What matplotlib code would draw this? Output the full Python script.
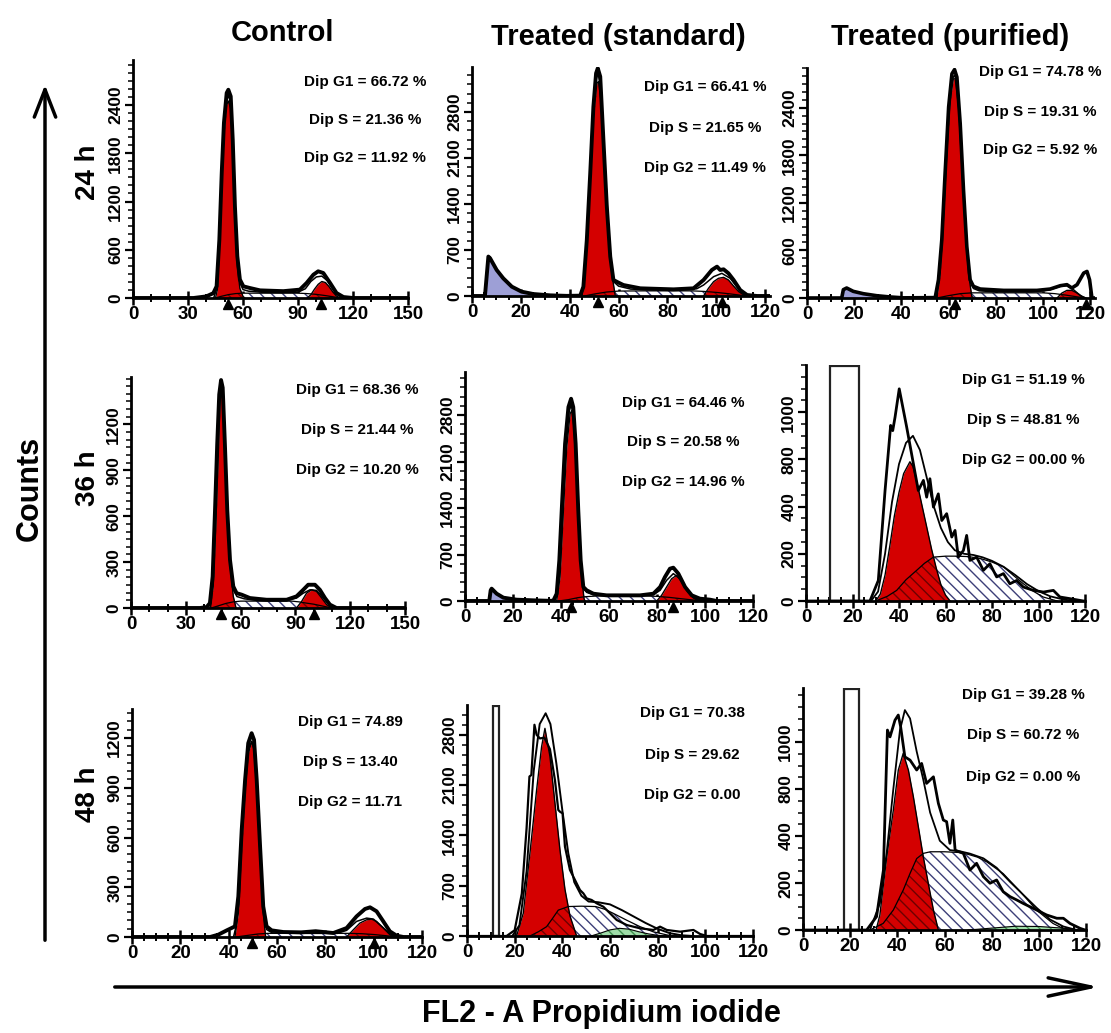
import numpy as np
import matplotlib
matplotlib.use('Agg')
import matplotlib.pyplot as plt
from matplotlib.patches import Rectangle, FancyArrowPatch
from matplotlib.ticker import MultipleLocator
from matplotlib.transforms import ScaledTranslation

plt.rcParams['font.family'] = ['Liberation Sans', 'DejaVu Sans']
plt.rcParams['font.weight'] = 'bold'
plt.rcParams['hatch.linewidth'] = 1.0

W, H = 1111, 1033
RED = '#d40000'
DEBRIS = '#9d9fd6'
HATCH = '#3d3f78'
GREEN = '#9fdca8'
HATCH_PATTERN = '\\\\\\'

col_titles = ['Control', 'Treated (standard)', 'Treated (purified)']
row_titles = ['24 h', '36 h', '48 h']

# ---- 24 h ----
ctrl24_data = [(0, 0), (33, 0), (40, 20), (43.8, 60), (45.6, 145), (47.1, 725), (48.4, 1555), (49.6, 2177),
               (51.1, 2550), (52, 2590), (53.3, 2508), (54.4, 1970), (55.6, 1140), (56.9, 520), (58.3, 230),
               (60.2, 145), (63.8, 124), (69.3, 95), (82, 85), (91, 104), (94.7, 187), (98.4, 290), (101, 332),
               (103.8, 311), (107.5, 187), (111, 62), (114.8, 12), (120, 0), (150, 0)]
ctrl24_fit = [(44, 0), (46, 140), (47.1, 690), (48.4, 1490), (49.6, 2110), (51, 2470), (52, 2510), (53.3, 2440),
              (54.4, 1900), (55.6, 1080), (56.9, 470), (58.3, 190), (60, 105), (63, 85), (70, 72), (80, 68),
              (90, 72), (94, 115), (97, 205), (100, 262), (103, 272), (106, 215), (109, 110), (112, 35), (115, 5),
              (118, 0)]
ctrl24_g1 = [(45, 0), (46, 100), (47.1, 640), (48.4, 1430), (49.6, 2040), (51, 2400), (52, 2450), (53.3, 2360),
             (54.4, 1830), (55.6, 990), (56.9, 400), (58.3, 120), (60, 20), (61, 0)]
ctrl24_s = [(45, 0), (48, 20), (52, 42), (56, 55), (60, 60), (70, 60), (80, 60), (90, 60), (95, 55), (100, 45),
            (105, 30), (110, 12), (113, 0)]
ctrl24_g2 = [(95, 0), (97, 40), (99, 110), (101, 170), (103, 205), (105, 192), (107, 140), (109, 75), (111, 25),
             (113, 0)]
ctrl24_peaks = [52, 102.5]
ctrl24_stats = ['Dip G1 = 66.72 %', 'Dip S = 21.36 %', 'Dip G2 = 11.92 %']

std24_debris = [(5.3, 0), (6.7, 600), (7.4, 575), (10.1, 396), (12.8, 269), (16.3, 142), (20.3, 66), (25.1, 30),
                (32, 10), (38.8, 0)]
std24_data = [(0, 0), (5.3, 0), (6.7, 600), (7.4, 575), (10.1, 396), (12.8, 269), (16.3, 142), (20.3, 66),
              (25.1, 30), (32, 10), (38.8, 2), (44.3, 5), (45.6, 142), (47, 852), (48.4, 1867), (49.7, 2882),
              (50.8, 3390), (51.5, 3466), (52.5, 3339), (53.8, 2375), (55.2, 1360), (56.6, 600), (57.9, 244),
              (60, 203), (62, 167), (68.9, 117), (82.5, 101), (90.7, 117), (94.8, 244), (98.2, 396), (100.3, 447),
              (101.6, 396), (103, 406), (105, 345), (107.1, 244), (109.8, 91), (112.6, 15), (116.7, 0), (122, 0)]
std24_fit = [(44.5, 0), (45.8, 130), (47, 800), (48.4, 1800), (49.7, 2800), (50.8, 3300), (51.5, 3380),
             (52.5, 3260), (53.8, 2300), (55.2, 1300), (56.6, 560), (57.9, 220), (60, 150), (65, 105), (75, 92),
             (85, 92), (92, 110), (94.8, 167), (98.9, 294), (102.3, 345), (105.7, 269), (108.4, 142), (111.2, 41),
             (114, 0)]
std24_g1 = [(45, 0), (47, 750), (48.4, 1766), (49.7, 2730), (51.1, 3237), (51.8, 3263), (53.1, 2882), (54.5, 1969),
            (55.9, 1055), (57.2, 345), (58.6, 15), (59.3, 0)]
std24_s = [(46, 0), (50, 30), (55, 60), (60, 75), (70, 78), (80, 78), (90, 78), (95, 70), (100, 55), (105, 35),
           (110, 12), (114, 0)]
std24_g2 = [(94.8, 0), (96.8, 117), (98.9, 218), (100.9, 269), (103, 284), (105, 244), (107.1, 152), (109.2, 66),
            (111.9, 0)]
std24_peaks = [51.5, 102.5]
std24_stats = ['Dip G1 = 66.41 %', 'Dip S = 21.65 %', 'Dip G2 = 11.49 %']

pur24_debris = [(14.7, 0), (15.4, 105), (16.8, 126), (19.6, 84), (23.9, 54), (29.5, 29), (35.2, 13), (40.8, 0)]
pur24_data = [(0, 0), (14.7, 0), (15.4, 105), (16.8, 126), (19.6, 84), (23.9, 54), (29.5, 29), (35.2, 13),
              (40.8, 2), (54.3, 5), (55.7, 230), (57.1, 733), (58.5, 1571), (60, 2408), (61.4, 2827), (62.5, 2880),
              (63.5, 2785), (64.9, 2199), (66.3, 1361), (67.7, 649), (69.1, 230), (70.5, 147), (73.4, 113),
              (83.3, 96), (97.4, 96), (103, 113), (107.3, 155), (110.1, 168), (112.2, 126), (114.4, 168),
              (117.2, 314), (118.6, 335), (119.7, 230), (120.7, 0), (122, 0)]
pur24_fit = [(54.5, 0), (55.9, 220), (57.3, 720), (58.7, 1540), (60.2, 2360), (61.5, 2760), (62.5, 2810),
             (63.5, 2720), (64.9, 2150), (66.3, 1320), (67.7, 620), (69.1, 215), (70.5, 120), (73, 90), (80, 78),
             (95, 78), (100, 90), (103, 105), (107.3, 147), (110.1, 155), (112.9, 105), (115.8, 29), (118, 0)]
pur24_g1 = [(55, 0), (56.4, 314), (57.8, 1068), (59.2, 1864), (60.6, 2492), (62, 2764), (62.8, 2764), (64.2, 2408),
            (65.6, 1654), (67, 900), (68.4, 314), (69.8, 21), (70.5, 0)]
pur24_s = [(55, 0), (60, 30), (65, 55), (70, 65), (80, 65), (90, 65), (100, 65), (105, 55), (110, 35), (115, 12),
           (118, 0)]
pur24_g2 = [(105.9, 0), (108, 63), (110.1, 96), (112.2, 96), (114.4, 63), (116.5, 21), (118, 0)]
pur24_peaks = [62.5, 118]
pur24_stats = ['Dip G1 = 74.78 %', 'Dip S = 19.31 %', 'Dip G2 = 5.92 %']

# ---- 36 h ----
ctrl36_data = [(0, 0), (37.8, 0), (41.4, 6), (43.2, 32), (44.7, 206), (46, 639), (47.2, 1072), (48.3, 1396),
               (49.3, 1490), (50.2, 1440), (51.4, 1072), (52.7, 639), (54.2, 314), (56, 141), (57.8, 97),
               (60.6, 87), (65.1, 65), (74.2, 54), (85.2, 54), (90.6, 76), (94.3, 119), (97, 152), (100.7, 152),
               (103.4, 119), (106.2, 65), (108.9, 22), (112.5, 0), (150, 0)]
ctrl36_fit = [(43.5, 0), (45, 190), (46.2, 610), (47.3, 1030), (48.4, 1350), (49.3, 1440), (50.2, 1395),
              (51.4, 1030), (52.7, 610), (54.2, 290), (56, 120), (58, 75), (62, 60), (70, 48), (85, 48), (90.6, 65),
              (94.3, 97), (98, 119), (101.6, 115), (105.3, 65), (108.9, 15), (111, 0)]
ctrl36_g1 = [(43.2, 0), (45, 141), (46.5, 574), (47.8, 1007), (48.7, 1353), (49.6, 1420), (50.5, 1331),
             (51.8, 963), (53.1, 574), (54.5, 249), (56, 76), (57.5, 0)]
ctrl36_s = [(44, 0), (48, 15), (52, 30), (56, 40), (60, 45), (70, 45), (80, 45), (88, 45), (92, 40), (96, 32),
            (100, 25), (104, 15), (108, 5), (110, 0)]
ctrl36_g2 = [(90.6, 0), (93.4, 43), (96.1, 97), (98.9, 119), (101.6, 108), (104.4, 65), (107.1, 22), (109.8, 0)]
ctrl36_peaks = [49.3, 100]
ctrl36_stats = ['Dip G1 = 68.36 %', 'Dip S = 21.44 %', 'Dip G2 = 10.20 %']

std36_debris = [(10.1, 0), (10.7, 161), (11.1, 186), (13.2, 110), (16, 50), (21.5, 20), (28.5, 10), (35.4, 0)]
std36_data = [(0, 0), (10.1, 0), (10.7, 161), (11.1, 186), (13.2, 110), (16, 50), (21.5, 20), (28.5, 10),
              (35.4, 3), (36.8, 5), (38.2, 110), (39.3, 612), (40.3, 1365), (41.7, 2369), (43.1, 2922),
              (44.2, 3047), (45.1, 2922), (46.1, 2369), (47.2, 1365), (48.2, 612), (49.3, 211), (50.7, 161),
              (53.5, 110), (59, 85), (72.9, 85), (78.5, 110), (81.3, 211), (83.3, 361), (85.4, 487), (86.8, 502),
              (88.9, 412), (91.7, 211), (94.5, 85), (97.9, 35), (102.1, 20), (104.9, 0), (120, 0)]
std36_fit = [(37.2, 0), (38.5, 100), (39.5, 590), (40.5, 1320), (41.8, 2300), (43.1, 2830), (44.2, 2950),
             (45.1, 2830), (46.1, 2300), (47.2, 1320), (48.2, 580), (49.3, 190), (50.7, 130), (53.5, 95), (59, 80),
             (72.9, 80), (78.5, 95), (81.3, 161), (84, 311), (86.8, 412), (89.6, 336), (92.4, 161), (95.1, 50),
             (98, 10), (100, 0)]
std36_g1 = [(38.2, 0), (39.6, 361), (41, 1365), (42.4, 2319), (43.8, 2821), (44.5, 2871), (45.4, 2620),
            (46.5, 1867), (47.6, 1014), (48.6, 361), (49.6, 35), (50, 0)]
std36_s = [(39, 0), (43, 20), (47, 50), (50, 65), (55, 75), (65, 75), (75, 75), (80, 70), (85, 55), (90, 35),
           (95, 15), (100, 0)]
std36_g2 = [(79.9, 0), (81.9, 85), (84, 211), (86.1, 336), (88.2, 387), (90.3, 286), (92.4, 161), (95.1, 50),
            (97.2, 0)]
std36_peaks = [44.2, 86.5]
std36_stats = ['Dip G1 = 64.46 %', 'Dip S = 20.58 %', 'Dip G2 = 14.96 %']

pur36_gate = [10.3, 22.8]
pur36_data = [(0, 0), (27.5, 0), (31.1, 87), (34, 468), (36.4, 744), (37.3, 722), (38.3, 779), (40.1, 899),
              (43.3, 737), (46.2, 581), (48.3, 468), (50.5, 511), (51.9, 440), (53.3, 518), (54.8, 398),
              (56.9, 454), (58.4, 341), (60.5, 370), (62.7, 271), (64.1, 299), (65.5, 186), (67.7, 214),
              (69.1, 278), (70.5, 172), (73.4, 186), (76.3, 130), (79.1, 158), (82, 102), (84.9, 116), (87.7, 73),
              (90.6, 87), (93.5, 59), (97.8, 45), (102.1, 38), (106.4, 45), (109.2, 17), (113.5, 10), (119.3, 0),
              (120, 0)]
pur36_fit = [(28, 0), (31, 40), (34, 200), (37, 420), (40, 580), (43, 670), (46, 700), (49, 640), (52, 520),
             (55, 400), (58, 310), (61, 250), (64, 215), (68, 200), (72, 195), (76, 185), (80, 170), (85, 145),
             (90, 110), (95, 72), (100, 42), (105, 20), (110, 8), (115, 0)]
pur36_g1 = [(30, 0), (32, 30), (34, 110), (36, 230), (38, 360), (40, 460), (42, 540), (44.7, 590), (46, 570),
            (48, 490), (50, 400), (52, 310), (54, 220), (56, 140), (58, 70), (60, 25), (62, 0)]
pur36_s = [(30, 0), (35, 20), (39, 45), (43, 90), (47.6, 130), (51, 160), (54.8, 186), (60, 190), (65, 190),
           (70, 188), (75, 180), (80, 165), (85, 144), (89, 110), (93.5, 73), (98, 40), (102, 17), (108, 0)]
pur36_stats = ['Dip G1 = 51.19 %', 'Dip S = 48.81 %', 'Dip G2 = 00.00 %']

# ---- 48 h ----
ctrl48_data = [(0, 0), (32.3, 0), (35.7, 14), (39.2, 40), (41.2, 54), (42.6, 64), (44, 245), (45.4, 647),
               (46.8, 948), (48.1, 1169), (49.5, 1229), (50.5, 1189), (51.6, 948), (53, 546), (54.3, 185),
               (55.7, 64), (57.8, 40), (62.6, 30), (70, 28), (76, 35), (83.3, 24), (88.8, 54), (92.9, 124),
               (96.4, 169), (98.5, 179), (101.2, 155), (104, 94), (106.7, 34), (109.5, 8), (112.3, 0), (120, 0)]
ctrl48_fit = [(42, 0), (43, 60), (44.2, 200), (45.4, 600), (46.8, 900), (48.1, 1120), (49.5, 1180), (50.5, 1140),
              (51.6, 900), (53, 500), (54.3, 160), (55.7, 45), (58, 25), (70, 22), (85, 22), (88.8, 40), (92.9, 94),
              (97.1, 114), (99.9, 108), (103.3, 64), (106.7, 20), (109, 0)]
ctrl48_g1 = [(42.6, 0), (44, 145), (45.4, 546), (46.8, 888), (48.1, 1108), (49.5, 1179), (50.5, 1128),
             (51.6, 908), (53, 506), (54.3, 145), (55.3, 0)]
ctrl48_s = [(43, 0), (48, 10), (52, 18), (56, 22), (65, 22), (80, 22), (90, 22), (95, 20), (100, 15), (105, 8),
            (110, 0)]
ctrl48_g2 = [(88.8, 0), (91.6, 44), (94.3, 84), (97.1, 104), (99.2, 108), (101.2, 94), (104, 54), (106.7, 14),
             (108.1, 0)]
ctrl48_peaks = [49.5, 100]
ctrl48_stats = ['Dip G1 = 74.89', 'Dip S = 13.40', 'Dip G2 = 11.71']

std48_gate = [10.8, 13.6]
std48_data = [(0, 0), (16.6, 0), (20, 80), (23, 590), (25, 1500), (26.2, 2220), (27, 2240), (28.3, 2940),
              (29.2, 2800), (30.6, 2750), (32.5, 2760), (34.8, 2600), (36.9, 2170), (38.3, 1754), (39, 1730),
              (40.1, 1707), (41.1, 1244), (43.2, 919), (45.3, 780), (47.4, 640), (48.8, 594), (50.2, 524),
              (52.3, 501), (54.4, 455), (57.2, 408), (60, 316), (62.8, 223), (67, 153), (72.6, 107), (78.2, 84),
              (81, 130), (83.8, 84), (89.4, 60), (95, 84), (97.8, 28), (100.6, 0), (120, 0)]
std48_fit = [(19, 0), (22, 150), (25, 900), (28, 2300), (30.5, 2950), (33, 3100), (35, 2950), (37.5, 2400),
             (40, 1750), (42.5, 1150), (45, 750), (48, 560), (51, 480), (55, 470), (60, 440), (65, 360), (70, 270),
             (75, 180), (80, 100), (85, 40), (90, 10), (95, 0)]
std48_g1 = [(20.8, 0), (23.6, 315), (26.4, 1150), (29.2, 2030), (31.3, 2635), (32.7, 2890), (34.8, 2500),
            (36.9, 1850), (39, 1200), (41.1, 650), (43.2, 280), (46, 0)]
std48_s = [(26.4, 0), (30, 60), (33.4, 130), (36, 250), (38.3, 360), (42.5, 410), (48, 415), (54, 410), (58, 370),
           (61.4, 315), (67, 220), (72.6, 130), (78, 60), (84, 14), (88, 0)]
std48_green = [(52, 0), (56, 40), (60, 85), (64, 107), (68, 95), (72, 60), (76, 30), (80, 10), (84, 0)]
std48_stats = ['Dip G1 = 70.38', 'Dip S = 29.62', 'Dip G2 = 0.00']

pur48_gate = [17.4, 23.9]
pur48_data = [(0, 0), (27, 0), (31.2, 57), (34.1, 255), (35.8, 851), (36.9, 822), (39, 893), (40.4, 915),
              (41.4, 865), (43.2, 737), (45.4, 723), (48.2, 681), (50.3, 709), (52.4, 624), (55.3, 652),
              (57.4, 539), (59.5, 468), (60.9, 461), (62.3, 369), (63.5, 468), (64.5, 340), (68, 326), (70.8, 255),
              (73.6, 284), (76.5, 227), (79.3, 199), (82.1, 213), (84.9, 163), (87.8, 142), (90.6, 128),
              (93.4, 113), (99.1, 85), (103.3, 64), (107.6, 50), (110.4, 50), (113.2, 28), (117.5, 7), (119.6, 0),
              (120, 0)]
pur48_fit = [(28.4, 0), (32.6, 114), (35.5, 330), (38.3, 600), (41.1, 850), (43.2, 936), (45.4, 900), (48.2, 760),
             (51, 640), (53.9, 500), (58, 380), (62.3, 340), (66.6, 335), (70.8, 325), (76.5, 305), (82.1, 265),
             (87.8, 205), (93.4, 150), (99, 95), (104.7, 45), (110.4, 15), (116, 0)]
pur48_g1 = [(31, 0), (32.6, 64), (35.5, 312), (38.3, 510), (40.4, 680), (42.5, 752), (44.7, 680), (46.8, 567),
            (48.9, 440), (51, 312), (53.1, 200), (55.3, 85), (57.4, 0)]
pur48_s = [(28.4, 0), (34, 28), (38.3, 85), (42.5, 170), (45.4, 241), (48.2, 304), (51, 326), (54, 333), (60, 333),
           (66, 330), (70, 322), (74, 310), (77.9, 290), (84.9, 240), (92, 165), (99, 85), (106, 28), (110, 8),
           (113, 0)]
pur48_green = [(70, 0), (80, 8), (90, 16), (100, 15), (110, 8), (118, 0)]
pur48_stats = ['Dip G1 = 39.28 %', 'Dip S = 60.72 %', 'Dip G2 = 0.00 %']

ticks_30 = [0, 30, 60, 90, 120, 150]
ticks_20 = [0, 20, 40, 60, 80, 100, 120]
y_600 = [0, 600, 1200, 1800, 2400]
y_700 = [0, 700, 1400, 2100, 2800]
y_300 = [0, 300, 600, 900, 1200]
y_odd_pos = [0, 200, 400, 600, 800]
y_odd_labels = ['0', '200', '400', '800', '1000']


def xy(points):
    a = np.array(points, dtype=float)
    return a[:, 0], a[:, 1]


def px_axes(fig, left, right, bottom, top):
    return fig.add_axes([left / W, 1 - bottom / H, (right - left) / W, (bottom - top) / H])


def draw_panel(fig, p):
    ax = px_axes(fig, *p['box'])
    sx, sy = xy(p['s'])
    if p.get('debris'):
        x, y = xy(p['debris'])
        ax.fill_between(x, y, color=DEBRIS, lw=0, zorder=2)
    if p.get('green'):
        x, y = xy(p['green'])
        ax.fill_between(x, y, facecolor=GREEN, edgecolor='#3f8f4f', hatch=HATCH_PATTERN, lw=0, zorder=3)
        ax.plot(x, y, color='black', lw=0.8, zorder=3)
    ax.fill_between(sx, sy, facecolor='white', edgecolor=HATCH, hatch=HATCH_PATTERN, lw=0, zorder=2)
    ax.plot(sx, sy, color='black', lw=0.9, zorder=5)
    for part in ('g1', 'g2'):
        if not p.get(part):
            continue
        gx, gy = xy(p[part])
        red = ax.fill_between(gx, gy, color=RED, lw=0, zorder=4)
        over = ax.fill_between(sx, sy, facecolor='none', edgecolor='#6e0000', hatch=HATCH_PATTERN, lw=0,
                               zorder=4.5)
        over.set_clip_path(red.get_paths()[0], ax.transData)
        ax.plot(gx, gy, color='black', lw=1.0, zorder=5)
    if p.get('gate'):
        g0, g1 = p['gate']
        ax.add_patch(Rectangle((g0, 0), g1 - g0, p['ymax'] * 0.997, fill=False, ec='#222222', lw=1.6, zorder=5))
    fx, fy = xy(p['fit'])
    ax.plot(fx, fy, color='black', lw=p['fit_lw'], zorder=6)
    dx, dy = xy(p['data'])
    ax.plot(dx, dy, color='black', lw=p['data_lw'], zorder=6, solid_joinstyle='round')
    if p.get('peaks'):
        shift = ax.transData + ScaledTranslation(0, -4 / 72, fig.dpi_scale_trans)
        ax.plot(p['peaks'], [0] * len(p['peaks']), ls='none', marker='^', ms=7, color='black',
                clip_on=False, zorder=11, transform=shift)

    ax.set_xlim(0, p['xmax'])
    ax.set_ylim(0, p['ymax'])
    ax.set_xticks(p['xticks'])
    ax.xaxis.set_minor_locator(MultipleLocator(p['xminor']))
    ax.set_yticks(p['yticks'])
    ax.set_yticklabels(p['ylabels'], rotation=90, va='center')
    ax.yaxis.set_minor_locator(MultipleLocator(p['yminor']))
    ax.tick_params(axis='x', which='major', direction='inout', length=10, width=1.8, labelsize=13.5, pad=1)
    ax.tick_params(axis='x', which='minor', direction='inout', length=6, width=1.4)
    ax.tick_params(axis='y', which='major', direction='out', length=6, width=1.6, labelsize=12.5, pad=1)
    ax.tick_params(axis='y', which='minor', direction='out', length=3.5, width=1.1)
    for side in ('top', 'right'):
        ax.spines[side].set_visible(False)
    for side in ('left', 'bottom'):
        ax.spines[side].set_linewidth(2.0)
        ax.spines[side].set_zorder(10)
    ax.patch.set_alpha(0)

    cx, ys = p['text_at']
    for s, ty in zip(p['stats'], ys):
        fig.text(cx / W, 1 - ty / H, s, ha='center', va='center', fontsize=11)
    return ax


def main():
    fig = plt.figure(figsize=(W / 100, H / 100), dpi=100)

    panels = [
        dict(box=(133, 408, 298, 60), xmax=150, ymax=2960, xticks=ticks_30, xminor=10, yticks=y_600,
             ylabels=[str(v) for v in y_600], yminor=100, data=ctrl24_data, fit=ctrl24_fit, g1=ctrl24_g1,
             s=ctrl24_s, g2=ctrl24_g2, peaks=ctrl24_peaks, stats=ctrl24_stats, data_lw=2.8, fit_lw=1.1,
             text_at=(365, (82, 120, 158))),
        dict(box=(472, 770, 296, 67), xmax=122, ymax=3485, xticks=ticks_20, xminor=5, yticks=y_700,
             ylabels=[str(v) for v in y_700], yminor=140, data=std24_data, fit=std24_fit, g1=std24_g1,
             s=std24_s, g2=std24_g2, debris=std24_debris, peaks=std24_peaks, stats=std24_stats, data_lw=2.8,
             fit_lw=1.1, text_at=(705, (87, 128, 168))),
        dict(box=(807, 1095, 298, 68), xmax=122, ymax=2900, xticks=ticks_20, xminor=5, yticks=y_600,
             ylabels=[str(v) for v in y_600], yminor=100, data=pur24_data, fit=pur24_fit, g1=pur24_g1,
             s=pur24_s, g2=pur24_g2, debris=pur24_debris, peaks=pur24_peaks, stats=pur24_stats, data_lw=2.6,
             fit_lw=1.1, text_at=(1040, (72, 112, 150))),
        dict(box=(131, 405, 608, 377), xmax=150, ymax=1510, xticks=ticks_30, xminor=10, yticks=y_300,
             ylabels=[str(v) for v in y_300], yminor=50, data=ctrl36_data, fit=ctrl36_fit, g1=ctrl36_g1,
             s=ctrl36_s, g2=ctrl36_g2, peaks=ctrl36_peaks, stats=ctrl36_stats, data_lw=2.8, fit_lw=1.1,
             text_at=(357, (390, 430, 470))),
        dict(box=(465, 753, 601, 372), xmax=120, ymax=3450, xticks=ticks_20, xminor=5, yticks=y_700,
             ylabels=[str(v) for v in y_700], yminor=140, data=std36_data, fit=std36_fit, g1=std36_g1,
             s=std36_s, g2=std36_g2, debris=std36_debris, peaks=std36_peaks, stats=std36_stats, data_lw=2.8,
             fit_lw=1.1, text_at=(683, (403, 442, 482))),
        dict(box=(806, 1085, 601, 365), xmax=120, ymax=1000, xticks=ticks_20, xminor=5, yticks=y_odd_pos,
             ylabels=y_odd_labels, yminor=50, data=pur36_data, fit=pur36_fit, g1=pur36_g1, s=pur36_s,
             gate=pur36_gate, stats=pur36_stats, data_lw=2.0, fit_lw=1.3, text_at=(1023, (380, 420, 460))),
        dict(box=(132, 422, 937, 709), xmax=120, ymax=1375, xticks=ticks_20, xminor=5, yticks=y_300,
             ylabels=[str(v) for v in y_300], yminor=50, data=ctrl48_data, fit=ctrl48_fit, g1=ctrl48_g1,
             s=ctrl48_s, g2=ctrl48_g2, peaks=ctrl48_peaks, stats=ctrl48_stats, data_lw=2.8, fit_lw=1.1,
             text_at=(350, (722, 762, 802))),
        dict(box=(467, 753, 936, 705), xmax=120, ymax=3215, xticks=ticks_20, xminor=5, yticks=y_700,
             ylabels=[str(v) for v in y_700], yminor=140, data=std48_data, fit=std48_fit, g1=std48_g1,
             s=std48_s, green=std48_green, gate=std48_gate, stats=std48_stats, data_lw=1.6, fit_lw=1.4,
             text_at=(692, (713, 755, 795))),
        dict(box=(803, 1086, 930, 688), xmax=120, ymax=1030, xticks=ticks_20, xminor=5, yticks=y_odd_pos,
             ylabels=y_odd_labels, yminor=50, data=pur48_data, fit=pur48_fit, g1=pur48_g1, s=pur48_s,
             green=pur48_green, gate=pur48_gate, stats=pur48_stats, data_lw=2.0, fit_lw=1.3,
             text_at=(1023, (695, 735, 777))),
    ]
    for p in panels:
        draw_panel(fig, p)

    for t, cx, cy in zip(col_titles, [282, 618, 950], [33, 37, 37]):
        fig.text(cx / W, 1 - cy / H, t, ha='center', va='center', fontsize=21)
    for t, cy in zip(row_titles, [172, 478, 794]):
        fig.text(88 / W, 1 - cy / H, t, ha='center', va='center', rotation=90, fontsize=20)
    fig.text(30 / W, 1 - 488 / H, 'Counts', ha='center', va='center', rotation=90, fontsize=22)
    fig.text(601 / W, 1 - 1014 / H, 'FL2 - A Propidium iodide', ha='center', va='center', fontsize=22)

    fig.add_artist(FancyArrowPatch((45 / W, 1 - 943 / H), (45 / W, 1 - 82 / H), transform=fig.transFigure,
                                   arrowstyle='->,head_length=0.9,head_width=0.35', mutation_scale=22,
                                   lw=2.5, color='black'))
    fig.add_artist(FancyArrowPatch((112 / W, 1 - 987 / H), (1102 / W, 1 - 987 / H), transform=fig.transFigure,
                                   arrowstyle='->,head_length=1.4,head_width=0.3', mutation_scale=22,
                                   lw=2.5, color='black'))

    fig.savefig('out.png', dpi=100)


if __name__ == "__main__":
    main()
